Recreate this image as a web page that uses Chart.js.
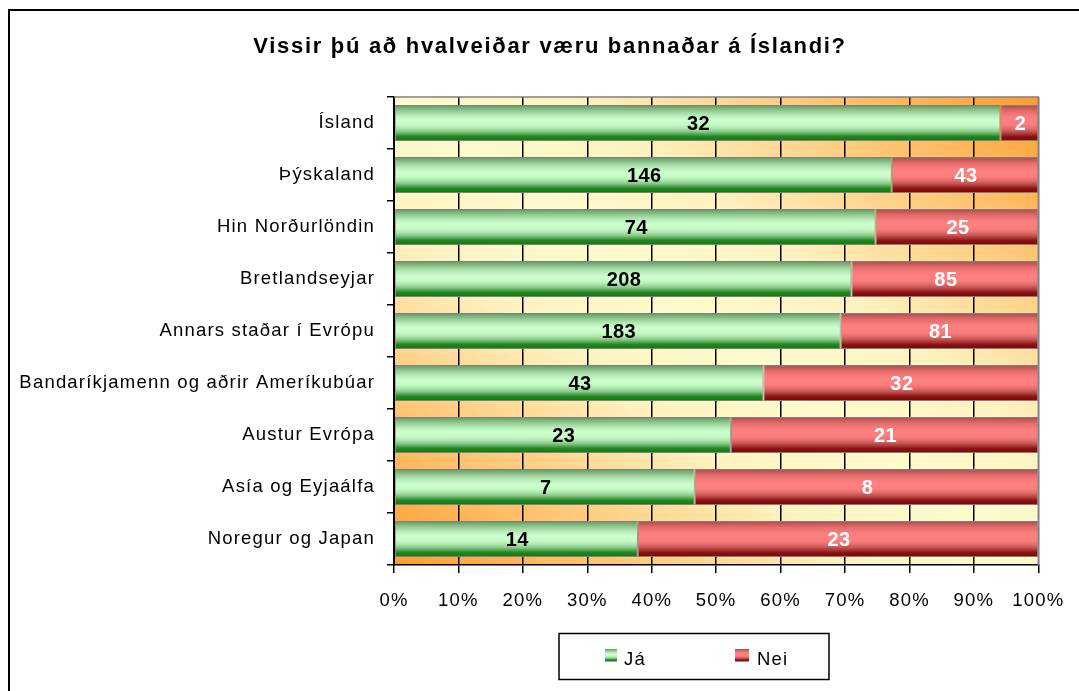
<!DOCTYPE html>
<html>
<head>
<meta charset="utf-8">
<title>Vissir þú að hvalveiðar væru bannaðar á Íslandi?</title>
<script src="https://cdn.jsdelivr.net/npm/chart.js@4.4.1/dist/chart.umd.min.js"></script>
<style>
  html, body { margin: 0; padding: 0; background: #fff; }
  #wrap { width: 1079px; height: 691px; }
</style>
</head>
<body>
<div id="wrap"><canvas id="chart" width="1079" height="691"></canvas></div>
<script>
const chartTitle = 'Vissir þú að hvalveiðar væru bannaðar á Íslandi?';
const categories = [
  'Ísland',
  'Þýskaland',
  'Hin Norðurlöndin',
  'Bretlandseyjar',
  'Annars staðar í Evrópu',
  'Bandaríkjamenn og aðrir Ameríkubúar',
  'Austur Evrópa',
  'Asía og Eyjaálfa',
  'Noregur og Japan'
];
const yesCounts = [32, 146, 74, 208, 183, 43, 23, 7, 14];
const noCounts = [2, 43, 25, 85, 81, 32, 21, 8, 23];
const percentTicks = [0, 10, 20, 30, 40, 50, 60, 70, 80, 90, 100];

const FONT = "'Liberation Sans', Arial, sans-serif";
const BAR_PCT = 0.69;

// share of each answer per group, in percent
const share = (a, b) => a.map((v, i) => (v / (v + b[i])) * 100);

const greenStops = [
  [0, '#5e955e'], [0.08, '#79b179'], [0.2, '#9fd59f'], [0.32, '#bff0bf'],
  [0.42, '#ccffcc'], [0.55, '#c6fac6'], [0.65, '#aee6ae'], [0.74, '#86c886'],
  [0.82, '#4e9f4e'], [0.88, '#1f861f'], [1, '#127812']
];
const redStops = [
  [0, '#a84848'], [0.08, '#c85a5a'], [0.2, '#e87070'], [0.32, '#fa7c7c'],
  [0.42, '#ff8080'], [0.55, '#fb7d7d'], [0.65, '#e46c6c'], [0.74, '#c45252'],
  [0.82, '#a43030'], [0.88, '#8a1212'], [1, '#7a0606']
];

function stripes(ctx, top, bottom, stops) {
  const g = ctx.createLinearGradient(0, top, 0, bottom);
  stops.forEach(([o, c]) => g.addColorStop(o, c));
  return g;
}

// vertical banded fill for each bar, sized from the category scale
function barFill(stops) {
  return (c) => {
    const chart = c.chart;
    const y = chart.scales.y;
    if (!chart.chartArea || !y || c.type !== 'data') return stops[4][1];
    const center = y.getPixelForValue(c.dataIndex);
    const half = (y.height / categories.length) * BAR_PCT / 2;
    return stripes(chart.ctx, center - half, center + half, stops);
  };
}

const plotBackground = {
  id: 'plotBackground',
  beforeDraw(chart) {
    const { ctx, chartArea: a } = chart;
    ctx.letterSpacing = '1.2px';
    const w = a.right - a.left, h = a.bottom - a.top;
    const cx = a.left + w / 2, cy = a.top + h / 2;
    // axis perpendicular to the top-left / bottom-right diagonal
    const len = Math.hypot(w, h);
    const ux = h / len, uy = -w / len;
    const reach = Math.abs((-w / 2) * ux + (h / 2) * uy);
    const g = ctx.createLinearGradient(cx - ux * reach, cy - uy * reach, cx + ux * reach, cy + uy * reach);
    g.addColorStop(0, '#ff9c2c');
    g.addColorStop(0.36, '#fff2c0');
    g.addColorStop(0.5, '#fffbcd');
    g.addColorStop(0.64, '#fff2c0');
    g.addColorStop(1, '#ff9c2c');
    ctx.save();
    ctx.fillStyle = g;
    ctx.fillRect(a.left, a.top, w, h);
    ctx.restore();
  }
};

const valueLabels = {
  id: 'valueLabels',
  afterDatasetsDraw(chart) {
    const { ctx } = chart;
    ctx.save();
    ctx.letterSpacing = '0.4px';
    ctx.font = 'bold 20px ' + FONT;
    ctx.textAlign = 'center';
    ctx.textBaseline = 'middle';
    chart.data.datasets.forEach((ds, di) => {
      const meta = chart.getDatasetMeta(di);
      meta.data.forEach((bar, i) => {
        ctx.fillStyle = ds.labelColor;
        ctx.fillText(String(ds.counts[i]), (bar.x + bar.base) / 2 + 1, bar.y + 1);
      });
    });
    ctx.restore();
  }
};

const frameTitleLegend = {
  id: 'frameTitleLegend',
  afterDraw(chart) {
    const { ctx, chartArea: a } = chart;
    ctx.save();
    // plot area edge
    ctx.strokeStyle = '#808080';
    ctx.lineWidth = 1.5;
    ctx.beginPath();
    ctx.moveTo(a.left, a.top);
    ctx.lineTo(a.right, a.top);
    ctx.lineTo(a.right, a.bottom);
    ctx.stroke();

    // outer frame
    ctx.strokeStyle = '#000';
    ctx.lineWidth = 2;
    ctx.strokeRect(9, 10, 1200, 800);

    // title
    ctx.fillStyle = '#000';
    ctx.font = 'bold 22px ' + FONT;
    ctx.letterSpacing = '1.7px';
    ctx.textAlign = 'center';
    ctx.textBaseline = 'alphabetic';
    ctx.fillText(chartTitle, 550, 53);

    // legend box
    ctx.lineWidth = 1.5;
    ctx.strokeRect(559, 633.5, 270, 46);
    ctx.font = '18.5px ' + FONT;
    ctx.letterSpacing = '1.2px';
    ctx.textAlign = 'left';
    const items = [
      { x: 605, w: 12, stops: greenStops, text: chart.data.datasets[0].label, tx: 624 },
      { x: 735, w: 14, stops: redStops, text: chart.data.datasets[1].label, tx: 757 }
    ];
    items.forEach(it => {
      ctx.fillStyle = stripes(ctx, 649, 661.5, it.stops);
      ctx.fillRect(it.x, 649, it.w, 12.5);
      ctx.fillStyle = '#000';
      ctx.fillText(it.text, it.tx, 664.5);
    });
    ctx.restore();
  }
};

new Chart(document.getElementById('chart'), {
  type: 'bar',
  data: {
    labels: categories,
    datasets: [
      {
        label: 'Já',
        data: share(yesCounts, noCounts),
        counts: yesCounts,
        labelColor: '#000',
        backgroundColor: barFill(greenStops),
        borderColor: '#808080',
        borderWidth: 1,
        borderSkipped: false,
        barPercentage: BAR_PCT,
        categoryPercentage: 1
      },
      {
        label: 'Nei',
        data: share(noCounts, yesCounts),
        counts: noCounts,
        labelColor: '#fff',
        backgroundColor: barFill(redStops),
        borderColor: '#808080',
        borderWidth: 1,
        borderSkipped: false,
        barPercentage: BAR_PCT,
        categoryPercentage: 1
      }
    ]
  },
  options: {
    indexAxis: 'y',
    responsive: false,
    devicePixelRatio: 1,
    animation: false,
    layout: { padding: { left: 0, right: 40, top: 97, bottom: 0 } },
    scales: {
      x: {
        stacked: true,
        min: 0,
        max: 100,
        afterBuildTicks: (scale) => { scale.ticks = percentTicks.map(v => ({ value: v })); },
        afterFit: (scale) => { scale.height = 126; },
        border: { color: '#000', width: 1.5 },
        grid: {
          color: (c) => (c.index === percentTicks.length - 1 ? '#808080' : '#000'),
          tickColor: '#000',
          lineWidth: 1.5,
          tickLength: 8
        },
        ticks: {
          maxRotation: 0,
          autoSkip: false,
          padding: 17,
          color: '#000',
          font: { family: FONT, size: 18.5 },
          callback: (v) => v + '%'
        }
      },
      y: {
        stacked: true,
        afterFit: (scale) => { scale.width = 394; },
        border: { color: '#000', width: 2 },
        grid: {
          offset: true,
          drawOnChartArea: false,
          color: '#000',
          lineWidth: 1.5,
          tickLength: 7
        },
        ticks: {
          padding: 12,
          color: '#000',
          font: { family: FONT, size: 18.5 }
        }
      }
    },
    plugins: {
      legend: { display: false },
      tooltip: { enabled: false },
      title: { display: false }
    }
  },
  plugins: [plotBackground, valueLabels, frameTitleLegend]
});
</script>
</body>
</html>
